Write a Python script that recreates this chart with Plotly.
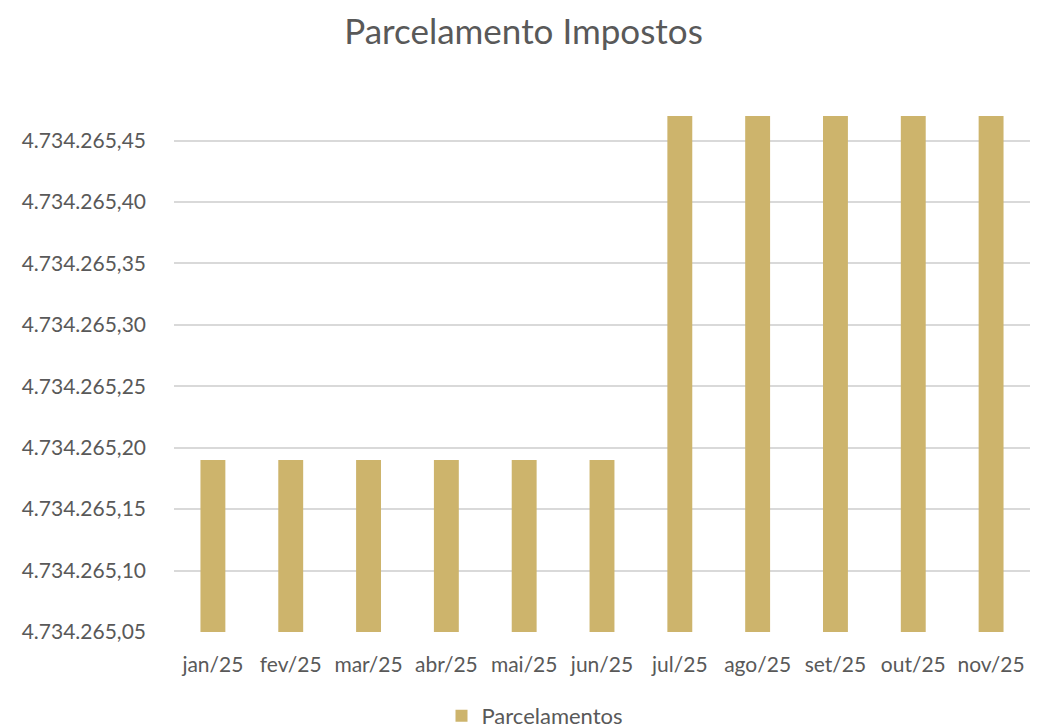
import plotly.graph_objects as go

months = ["jan/25", "fev/25", "mar/25", "abr/25", "mai/25", "jun/25",
          "jul/25", "ago/25", "set/25", "out/25", "nov/25"]
parcelamentos = [4734265.19, 4734265.19, 4734265.19, 4734265.19, 4734265.19, 4734265.19,
                 4734265.47, 4734265.47, 4734265.47, 4734265.47, 4734265.47]

FONT = "Lato, 'Open Sans', sans-serif"
TXT = "#595959"
W, H = 1031, 720

fig = go.Figure()
fig.add_trace(go.Bar(x=months, y=parcelamentos, name="Parcelamentos",
                     marker=dict(color="#CDB46C", line=dict(width=0)),
                     width=0.32, showlegend=True))

fig.update_layout(
    width=W, height=H,
    paper_bgcolor="white", plot_bgcolor="white",
    separators=",.",
    margin=dict(l=166, r=9, t=108, b=96, autoexpand=False),
    title=dict(text="Parcelamento Impostos", x=0.5, xanchor="center",
               y=1 - 24 / H, yanchor="middle",
               font=dict(family=FONT, size=35, color=TXT)),
    font=dict(family=FONT, size=21, color=TXT),
    showlegend=True,
    legend=dict(orientation="h", xref="container", x=527 / W, xanchor="center",
                yref="container", y=12 / H, yanchor="middle",
                font=dict(family=FONT, size=22, color=TXT), itemwidth=30),
    bargap=0.68,
)
fig.update_xaxes(showgrid=False, showline=False, ticks="", tickfont=dict(size=21, color=TXT),
                 ticklabelstandoff=18, automargin=False)
fig.update_yaxes(range=[4734265.05, 4734265.47], tick0=4734265.05, dtick=0.05,
                 tickformat=",.2f", showgrid=True, gridcolor="#D9D9D9", gridwidth=1.5,
                 zeroline=False, showline=False, ticks="", ticklabelstandoff=27,
                 automargin=False, tickfont=dict(size=21, color=TXT))

fig.write_html("out.html")
